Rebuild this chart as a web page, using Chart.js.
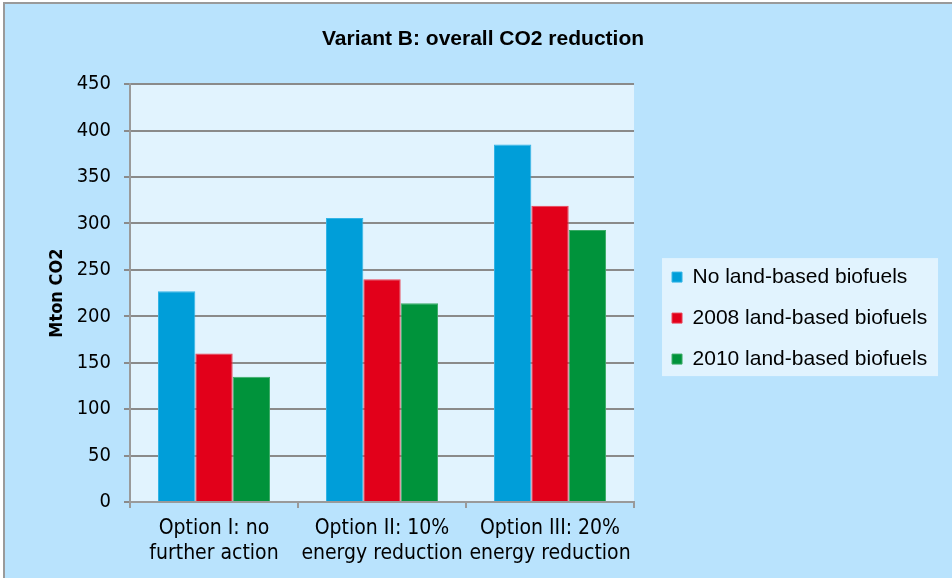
<!DOCTYPE html>
<html lang="en">
<head>
    <meta charset="UTF-8">
    <title>Variant B: overall CO2 reduction</title>
    <script src="https://cdn.jsdelivr.net/npm/chart.js"></script>
    <style>
        body { margin: 0; background: #fff; }
        #frame { position: absolute; left: 3px; top: 2px; width: 1000px; height: 640px;
                 background: #b9e3fd; border-top: 2px solid #9a9a9a; border-left: 2px solid #9a9a9a; }
        #wrap { position: absolute; left: 0; top: 0; width: 952px; height: 578px; }
    </style>
</head>
<body>
    <div id="frame"></div>
    <div id="wrap"><canvas id="co2Chart" width="952" height="578"></canvas></div>
<script>
// data
var options_ = [['Option I: no', 'further action'], ['Option II: 10%', 'energy reduction'], ['Option III: 20%', 'energy reduction']];
var noBiofuels = [227, 306, 385];
var biofuels2008 = [160, 240, 319];
var biofuels2010 = [135, 214, 293];

var tahoma = "'DejaVu Sans Condensed', 'DejaVu Sans', sans-serif";
var arial = "'Liberation Sans', Arial, sans-serif";

// light panel behind the plot and behind the legend
var panels = {
    id: 'panels',
    afterLayout: function (chart) {
        // chart.js caps the legend width, so give it the rest of the frame
        // and nudge it away from the plot like the original
        var lg = chart.legend;
        lg.left = chart.chartArea.right + 18;
        lg.right = chart.width;
        lg.width = lg.right - lg.left;
        lg.top += 25; lg.bottom += 25;
        // title sits centred on the whole frame, not on the space left of the padding
        var t = chart.titleBlock;
        var shift = (14 + chart.width) / 2 - (t.left + t.right) / 2;
        t.left += shift; t.right += shift;
    },
    beforeDraw: function (chart) {
        var c = chart.ctx, a = chart.chartArea;
        c.save();
        c.fillStyle = '#e1f3fe';
        c.fillRect(a.left, a.top, a.right - a.left, a.bottom - a.top);
        var lg = chart.legend;
        var boxLeft = lg.left + 20;
        var itemsTop = (lg.top + 20 + lg.bottom - 123) / 2;
        c.fillRect(boxLeft - 10, itemsTop - 8.5, 276, 118);
        c.restore();
    }
};

new Chart(document.getElementById('co2Chart'), {
    type: 'bar',
    data: {
        labels: options_,
        datasets: [
            { label: 'No land-based biofuels', data: noBiofuels, backgroundColor: '#009ed9', borderColor: '#33b4e6', borderWidth: 1 },
            { label: '2008 land-based biofuels', data: biofuels2008, backgroundColor: '#e2001a', borderColor: '#ea4055', borderWidth: 1 },
            { label: '2010 land-based biofuels', data: biofuels2010, backgroundColor: '#00933b', borderColor: '#3aab66', borderWidth: 1 }
        ]
    },
    options: {
        responsive: false,
        animation: false,
        // right padding chosen so the plot ends at x=634 (legend takes a quarter of the rest)
        layout: { padding: { left: 14, top: 0, right: 111.3, bottom: 0 } },
        datasets: { bar: { categoryPercentage: 0.667, barPercentage: 1 } },
        plugins: {
            title: {
                display: true,
                text: 'Variant B: overall CO2 reduction',
                color: '#000',
                font: { family: arial, size: 21, weight: 'bold' },
                padding: { top: 27, bottom: 32 }
            },
            legend: {
                position: 'right',
                fullSize: false,
                labels: {
                    boxWidth: 10, boxHeight: 10, padding: 20,
                    color: '#000',
                    font: { family: arial, size: 21 }
                }
            },
            tooltip: { enabled: false }
        },
        scales: {
            x: {
                grid: { display: true, offset: true, drawOnChartArea: false, tickLength: 6, color: '#9a9a9a', lineWidth: 2 },
                border: { color: '#9a9a9a', width: 2 },
                ticks: { color: '#000', padding: 8, maxRotation: 0, font: { family: tahoma, size: 21, lineHeight: 1.19 } },
                afterFit: function (scale) { scale.height = 76; }
            },
            y: {
                min: 0, max: 450,
                ticks: { stepSize: 50, color: '#000', padding: 13, font: { family: tahoma, size: 20 } },
                grid: { color: '#8a8a8a', lineWidth: 2, tickLength: 6 },
                border: { color: '#9a9a9a', width: 2 },
                title: {
                    display: true, text: 'Mton CO2', color: '#000',
                    font: { family: tahoma, size: 18, weight: 'bold' },
                    padding: { top: 33, bottom: 0 }
                },
                afterFit: function (scale) { scale.width = 116; }
            }
        }
    },
    plugins: [panels]
});
</script>
</body>
</html>
